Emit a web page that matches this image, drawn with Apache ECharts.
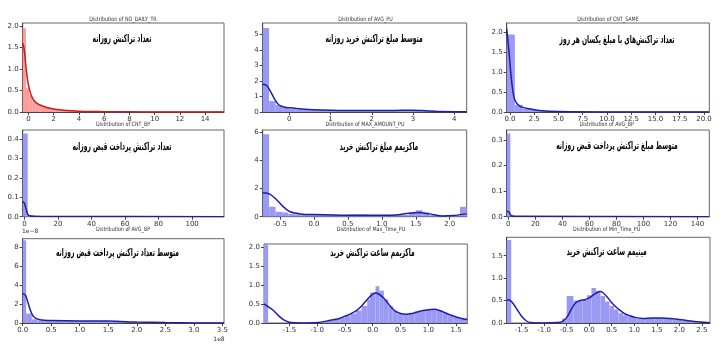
<!DOCTYPE html>
<html><head><meta charset="utf-8">
<script src="https://cdn.jsdelivr.net/npm/echarts@6/dist/echarts.min.js"></script>
<style>html,body{margin:0;padding:0;background:#fff}#c{width:727px;height:352px}</style>
</head><body><div id="c"></div>
<script>
// ---------- DATA ----------
// Panel 1: NO_DAILY_TR
const p1Title = "Distribution of NO_DAILY_TR";
const p1Note = "تعداد تراکنش روزانه";
const p1BinEdges = [-0.46,-0.2,0.05,0.3,0.55,0.8,1.05,1.3,1.55,1.8,2.05,2.55,3.05,3.55,4.05,5.05,6.05];
const p1BinHeights = [1.95,0.55,0.38,0.28,0.21,0.17,0.14,0.12,0.1,0.08,0.06,0.045,0.035,0.025,0.015,0.008];
const p1KdeX = [-0.46,-0.4,-0.3,-0.2,-0.1,0,0.2,0.4,0.6,1.0,1.5,2,2.5,3,4,5,6,8,10,15.5];
const p1KdeY = [1.6,1.55,1.35,1.05,0.8,0.62,0.4,0.28,0.22,0.15,0.1,0.07,0.05,0.035,0.02,0.012,0.008,0.004,0.002,0];
const p1XTicks = [0,2,4,6,8,10,12,14];
const p1YTicks = [0,0.5,1.0,1.5,2.0];

// Panel 2: AVG_PU
const p2Title = "Distribution of AVG_PU";
const p2Note = "متوسط مبلغ تراکنش خرید روزانه";
const p2BinEdges = [-0.645,-0.49,-0.33,-0.17,-0.01,0.15,0.31,0.47,0.8,1.2,1.6,2.0,2.4,2.8,3.2,3.6,4.0];
const p2BinHeights = [5.4,0.7,0.45,0.3,0.2,0.17,0.14,0.12,0.11,0.1,0.1,0.1,0.11,0.1,0.05,0.03];
const p2KdeX = [-0.645,-0.55,-0.45,-0.35,-0.25,-0.1,0,0.3,0.6,1,1.5,2,2.5,3,3.3,3.6,4.3];
const p2KdeY = [1.78,1.7,1.3,0.8,0.45,0.3,0.27,0.2,0.15,0.12,0.1,0.1,0.1,0.12,0.08,0.03,0.02];
const p2XTicks = [0,1,2,3,4];
const p2YTicks = [0,1,2,3,4,5];

// Panel 3: CNT_SAME
const p3Title = "Distribution of CNT_SAME";
const p3Note = "تعداد تراکنش‌های با مبلغ یکسان هر روز";
const p3BinEdges = [-0.34,0.5,1.3,2.1,2.9,3.7,4.5,5.3];
const p3BinHeights = [1.95,0.18,0.08,0.05,0.03,0.02,0.01];
const p3KdeX = [-0.34,-0.1,0.2,0.5,1,2,3,5,10,20.5];
const p3KdeY = [2.1,1.5,0.7,0.3,0.15,0.08,0.04,0.01,0.002,0];
const p3XTicks = [0,2.5,5,7.5,10,12.5,15,17.5,20];
const p3YTicks = [0,0.5,1.0,1.5,2.0];

// Panel 4: CNT_BP
const p4Title = "Distribution of CNT_BP";
const p4Note = "تعداد تراکنش پرداخت قبض روزانه";
const p4BinEdges = [-1,2,5];
const p4BinHeights = [0.43,0.005];
const p4KdeX = [-1,0,1,2,3,6,20,119];
const p4KdeY = [0.078,0.07,0.04,0.012,0.005,0.002,0.001,0];
const p4XTicks = [0,20,40,60,80,100];
const p4YTicks = [0,0.1,0.2,0.3,0.4];

// Panel 5: MAX_AMOUNT_PU
const p5Title = "Distribution of MAX_AMOUNT_PU";
const p5Note = "ماکزیمم مبلغ تراکنش خرید";
const p5BinEdges = [-0.755,-0.66,-0.565,-0.47,-0.375,-0.28,-0.185,-0.09,0.2,0.5,0.8,1.1,1.4,1.5,1.6,1.7,1.9,2.15,2.25];
const p5BinHeights = [5.85,0.7,0.35,0.3,0.2,0.15,0.2,0.15,0.12,0.15,0.1,0.12,0.3,0.45,0.3,0.1,0.08,0.7];
const p5KdeX = [-0.755,-0.65,-0.55,-0.45,-0.35,-0.2,0,0.5,1.0,1.2,1.4,1.55,1.7,1.9,2.05,2.25];
const p5KdeY = [1.7,1.6,1.2,0.7,0.35,0.2,0.15,0.1,0.1,0.12,0.25,0.3,0.2,0.05,0.08,0.2];
const p5XTicks = [-0.5,0,0.5,1.0,1.5,2.0];
const p5YTicks = [0,2,4,6];

// Panel 6: AVG_BP
const p6Title = "Distribution of AVG_BP";
const p6Note = "متوسط مبلغ تراکنش پرداخت قبض روزانه";
const p6BinEdges = [-1.2,1.5];
const p6BinHeights = [0.325];
const p6KdeX = [-1.2,0,2,5,148];
const p6KdeY = [0.02,0.02,0.005,0.002,0];
const p6XTicks = [0,20,40,60,80,100,120,140];
const p6YTicks = [0,0.1,0.2,0.3];

// Panel 7: AVG_BP (x in 1e8, y in 1e-8)
const p7Title = "Distribution of AVG_BP";
const p7Note = "متوسط تعداد تراکنش پرداخت قبض روزانه";
const p7BinEdges = [0,0.06,0.16,0.26,0.5,1.0,1.5,2.0,2.5];
const p7BinHeights = [8.7,1.0,0.4,0.25,0.2,0.2,0.1,0.04];
const p7KdeX = [0,0.05,0.1,0.15,0.2,0.3,0.5,1.0,1.5,2.0,2.5,3.0,3.53];
const p7KdeY = [3.1,2.9,2.0,1.1,0.6,0.35,0.25,0.2,0.2,0.1,0.04,0.01,0];
const p7XTicks = [0,0.5,1.0,1.5,2.0,2.5,3.0,3.5];
const p7YTicks = [0,2,4,6,8];

// Panel 8: Max_Time_PU
const p8Title = "Distribution of Max_Time_PU";
const p8Note = "ماکزیمم ساعت تراکنش خرید";
const p8BinEdges = [-1.955,-1.88,-1.0,-0.9,-0.8,-0.7,-0.6,-0.5,-0.4,-0.3,-0.2,-0.1,-0.05,0.05,0.12,0.2,0.28,0.36,0.45,0.55,0.65,0.75,0.85,0.95,1.05,1.15,1.25,1.35,1.45,1.55,1.7];
const p8BinHeights = [2.17,0,0.02,0.04,0.07,0.1,0.15,0.2,0.25,0.33,0.45,0.62,0.8,0.97,0.85,0.62,0.45,0.32,0.24,0.23,0.26,0.3,0.33,0.35,0.37,0.33,0.26,0.2,0.15,0.11];
const p8KdeX = [-1.955,-1.9,-1.8,-1.7,-1.6,-1.5,-1.4,-1.2,-1.0,-0.8,-0.6,-0.5,-0.4,-0.3,-0.2,-0.1,0,0.05,0.1,0.2,0.3,0.4,0.5,0.6,0.7,0.8,0.9,1.0,1.1,1.2,1.3,1.4,1.5,1.6,1.7];
const p8KdeY = [0.5,0.45,0.35,0.2,0.08,0.02,0.005,0,0.01,0.06,0.12,0.18,0.24,0.32,0.45,0.62,0.76,0.79,0.77,0.65,0.47,0.32,0.25,0.23,0.25,0.29,0.33,0.35,0.36,0.33,0.27,0.21,0.16,0.12,0.09];
const p8XTicks = [-1.5,-1.0,-0.5,0,0.5,1.0,1.5];
const p8YTicks = [0,0.5,1.0,1.5,2.0];

// Panel 9: Min_Time_PU
const p9Title = "Distribution of Min_Time_PU";
const p9Note = "مینیمم ساعت تراکنش خرید";
const p9BinEdges = [-1.83,-1.73,-0.6,-0.5,-0.35,-0.15,-0.05,0.05,0.15,0.25,0.35,0.45,0.55,0.65,0.75,0.85,0.95,1.05,1.15,1.25,1.45,1.65,1.85,2.05,2.25,2.45,2.65];
const p9BinHeights = [1.85,0,0.1,0.6,0.5,0.52,0.62,0.78,0.72,0.6,0.48,0.38,0.3,0.22,0.17,0.14,0.12,0.1,0.1,0.11,0.11,0.09,0.07,0.05,0.03,0.01];
const p9KdeX = [-1.83,-1.78,-1.7,-1.6,-1.5,-1.4,-1.3,-1.0,-0.7,-0.6,-0.5,-0.4,-0.3,-0.2,-0.1,0,0.1,0.2,0.25,0.3,0.4,0.5,0.6,0.7,0.8,0.9,1.0,1.2,1.4,1.6,1.8,2.0,2.2,2.4,2.6,2.68];
const p9KdeY = [0.5,0.52,0.45,0.3,0.15,0.05,0.01,0,0.01,0.03,0.12,0.3,0.45,0.5,0.52,0.56,0.63,0.69,0.7,0.68,0.58,0.45,0.35,0.27,0.2,0.16,0.13,0.1,0.11,0.11,0.1,0.08,0.05,0.03,0.01,0.005];
const p9XTicks = [-1.5,-1.0,-0.5,0,0.5,1.0,1.5,2.0,2.5];
const p9YTicks = [0,0.5,1.0,1.5];

// ---------- LAYOUT / STYLE ----------
const BLUE_BAR = '#9a9af5', BLUE_LINE = '#1e1ea6';
const RED_BAR = '#ff9d9d', RED_LINE = '#cc1a1a';
const panels = [
  {t:p1Title,n:p1Note,e:p1BinEdges,h:p1BinHeights,kx:p1KdeX,ky:p1KdeY,xt:p1XTicks,yt:p1YTicks,xr:[-0.46,15.5],yr:[0,2.07],box:[22.7,23,224,112],xd:0,yd:1,red:true,tp:[123,19],np:[122,39]},
  {t:p2Title,n:p2Note,e:p2BinEdges,h:p2BinHeights,kx:p2KdeX,ky:p2KdeY,xt:p2XTicks,yt:p2YTicks,xr:[-0.645,4.3],yr:[0,5.72],box:[262.7,23,466.7,112],xd:0,yd:0,tp:[365.5,19],np:[374,39]},
  {t:p3Title,n:p3Note,e:p3BinEdges,h:p3BinHeights,kx:p3KdeX,ky:p3KdeY,xt:p3XTicks,yt:p3YTicks,xr:[-0.34,20.55],yr:[0,2.24],box:[506.7,23,709.3,112],xd:1,yd:1,tp:[608,19],np:[617,40]},
  {t:p4Title,n:p4Note,e:p4BinEdges,h:p4BinHeights,kx:p4KdeX,ky:p4KdeY,xt:p4XTicks,yt:p4YTicks,xr:[-1,119],yr:[0,0.448],box:[22.7,130,224,216.7],xd:0,yd:1,tp:[123,124],np:[122,146.7]},
  {t:p5Title,n:p5Note,e:p5BinEdges,h:p5BinHeights,kx:p5KdeX,ky:p5KdeY,xt:p5XTicks,yt:p5YTicks,xr:[-0.755,2.25],yr:[0,6.15],box:[262.7,130,466.7,216.7],xd:1,yd:0,tp:[365,124],np:[379,147]},
  {t:p6Title,n:p6Note,e:p6BinEdges,h:p6BinHeights,kx:p6KdeX,ky:p6KdeY,xt:p6XTicks,yt:p6YTicks,xr:[-1.2,148.7],yr:[0,0.339],box:[506.7,130,709.3,216.7],xd:0,yd:1,tp:[606.7,124],np:[617,145.7]},
  {t:p7Title,n:p7Note,e:p7BinEdges,h:p7BinHeights,kx:p7KdeX,ky:p7KdeY,xt:p7XTicks,yt:p7YTicks,xr:[0,3.53],yr:[0,8.87],box:[22.7,238.7,224,323],xd:1,yd:0,tp:[123,229.5],np:[117.5,253]},
  {t:p8Title,n:p8Note,e:p8BinEdges,h:p8BinHeights,kx:p8KdeX,ky:p8KdeY,xt:p8XTicks,yt:p8YTicks,xr:[-1.955,1.70],yr:[0,2.08],box:[264,244,467.3,323],xd:1,yd:1,tp:[371,229.5],np:[372.5,253]},
  {t:p9Title,n:p9Note,e:p9BinEdges,h:p9BinHeights,kx:p9KdeX,ky:p9KdeY,xt:p9XTicks,yt:p9YTicks,xr:[-1.83,2.68],yr:[0,1.91],box:[506.7,237.3,710,323],xd:1,yd:1,tp:[606.7,229],np:[606.7,252]}
];

const grid=[],xAxis=[],yAxis=[],series=[],graphic=[];
const labelStyle = {fontSize:7,color:'#333',fontFamily:'DejaVu Sans'};
panels.forEach((p,i)=>{
  const [l,t,r,b]=p.box;
  grid.push({left:l,top:t,width:r-l,height:b-t,show:true,borderColor:'#666',borderWidth:1,backgroundColor:'#fff'});
  xAxis.push({type:'value',gridIndex:i,min:p.xr[0],max:p.xr[1],
    axisLine:{show:true,onZero:false,lineStyle:{color:'#444',width:1}},
    axisTick:{show:true,length:3,customValues:p.xt,lineStyle:{color:'#444'}},
    axisLabel:Object.assign({customValues:p.xt,margin:4,formatter:v=>v.toFixed(p.xd),showMinLabel:true,showMaxLabel:true},labelStyle),
    splitLine:{show:false}});
  yAxis.push({type:'value',gridIndex:i,min:p.yr[0],max:p.yr[1],
    axisLine:{show:true,onZero:false,lineStyle:{color:'#444',width:1}},
    axisTick:{show:true,length:3,customValues:p.yt,lineStyle:{color:'#444'}},
    axisLabel:Object.assign({customValues:p.yt,margin:4,formatter:v=>v.toFixed(p.yd)},labelStyle),
    splitLine:{show:false}});
  const bins=[];
  for(let k=0;k<p.h.length;k++) bins.push([p.e[k],p.e[k+1],p.h[k]]);
  const barColor = p.red?RED_BAR:BLUE_BAR, lineColor = p.red?RED_LINE:BLUE_LINE;
  series.push({type:'custom',xAxisIndex:i,yAxisIndex:i,clip:true,data:bins,silent:true,
    renderItem:(params,api)=>{
      const a=api.coord([api.value(0),api.value(2)]);
      const c=api.coord([api.value(1),0]);
      return {type:'rect',shape:{x:a[0],y:a[1],width:c[0]-a[0],height:c[1]-a[1]},style:{fill:barColor}};
    }});
  series.push({type:'line',xAxisIndex:i,yAxisIndex:i,data:p.kx.map((x,k)=>[x,p.ky[k]]),
    showSymbol:false,smooth:0.3,clip:true,silent:true,lineStyle:{color:lineColor,width:1.5},z:3});
  graphic.push({type:'text',x:p.tp[0],y:p.tp[1],scaleX:0.8,z:10,style:{text:p.t,fontSize:6,fill:'#333',fontFamily:'DejaVu Sans',align:'center',verticalAlign:'middle'}});
  graphic.push({type:'text',x:p.np[0],y:p.np[1],scaleX:0.54,z:10,style:{text:p.n,fontSize:11,fill:'#000',fontFamily:'DejaVu Sans',fontWeight:'bold',align:'center',verticalAlign:'middle'}});
});
// offset labels for scientific notation panel
graphic.push({type:'text',x:22,y:231,style:{text:'1e−8',fontSize:6,fill:'#333',fontFamily:'DejaVu Sans',align:'left',verticalAlign:'middle'}});
graphic.push({type:'text',x:219,y:339,style:{text:'1e8',fontSize:6,fill:'#333',fontFamily:'DejaVu Sans',align:'center',verticalAlign:'middle'}});

const chart = echarts.init(document.getElementById('c'),null,{renderer:'canvas'});
chart.setOption({animation:false,backgroundColor:'#fff',grid,xAxis,yAxis,series,graphic});
</script></body></html>
